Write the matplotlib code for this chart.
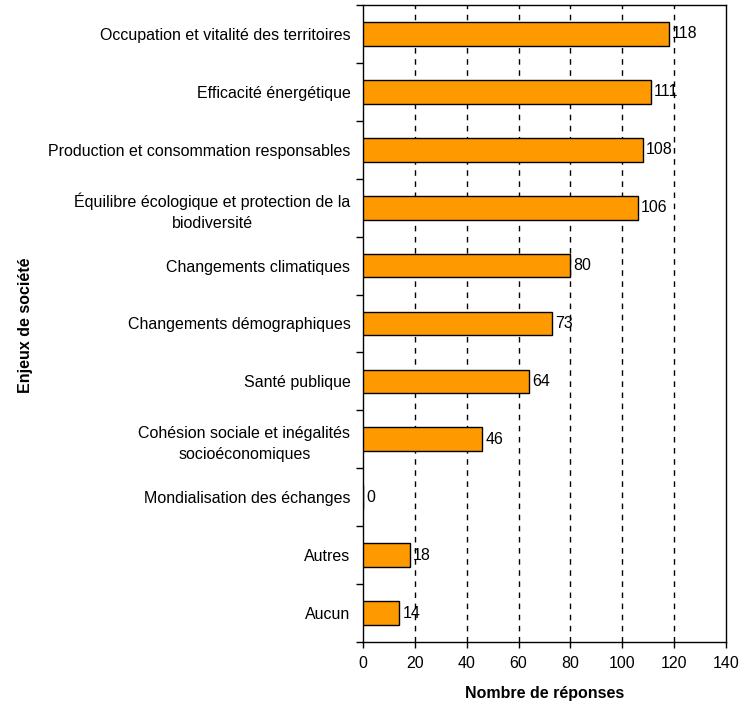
import matplotlib.pyplot as plt
import numpy as np

plt.rcParams['font.family'] = ['Liberation Sans', 'DejaVu Sans']

# Data (top to bottom as displayed)
categories = [
    "Occupation et vitalité des territoires",
    "Efficacité énergétique",
    "Production et consommation responsables",
    "Équilibre écologique et protection de la\nbiodiversité",
    "Changements climatiques",
    "Changements démographiques",
    "Santé publique",
    "Cohésion sociale et inégalités\nsocioéconomiques",
    "Mondialisation des échanges",
    "Autres",
    "Aucun",
]
values = [118, 111, 108, 106, 80, 73, 64, 46, 0, 18, 14]
x_ticks = [0, 20, 40, 60, 80, 100, 120, 140]

FS = 11.5

fig = plt.figure(figsize=(7.39, 7.05), dpi=100)
ax = fig.add_axes([0.4912, 0.0894, 0.4912, 0.9035])

n = len(categories)
y = np.arange(n)
ax.barh(y, values, height=0.41, color='#FF9900', edgecolor='black',
        linewidth=1, zorder=3)

for yi, v in zip(y, values):
    ax.text(v + 1.2, yi, str(v), va='center', ha='left', fontsize=FS, zorder=4)

ax.set_xlim(0, 140)
ax.set_ylim(n - 0.5, -0.5)
ax.set_xticks(x_ticks)
ax.set_xticklabels([str(t) for t in x_ticks], fontsize=FS)

ax.set_yticks(y)
ax.set_yticklabels(categories, fontsize=FS, ha='right')
ax.tick_params(axis='y', length=0, pad=9)
for lbl in ax.get_yticklabels():
    lbl.set_multialignment('center')
    lbl.set_linespacing(1.5)
# category boundary ticks
ax.set_yticks(np.arange(-0.5, n, 1), minor=True)
ax.tick_params(axis='y', which='minor', length=5, direction='out', width=1)
ax.tick_params(axis='x', length=4, direction='out', width=1, pad=6)

for t in x_ticks[1:-1]:
    ax.axvline(t, color='black', linestyle=(0, (4, 4)), linewidth=1, zorder=1)

for s in ax.spines.values():
    s.set_linewidth(1)
    s.set_color('black')

ax.set_xlabel("Nombre de réponses", fontsize=FS, fontweight='bold', labelpad=11)
fig.text(0.035, 0.539, "Enjeux de société", rotation=90, fontsize=FS,
         fontweight='bold', ha='center', va='center')

fig.savefig('out.png', dpi=100)
